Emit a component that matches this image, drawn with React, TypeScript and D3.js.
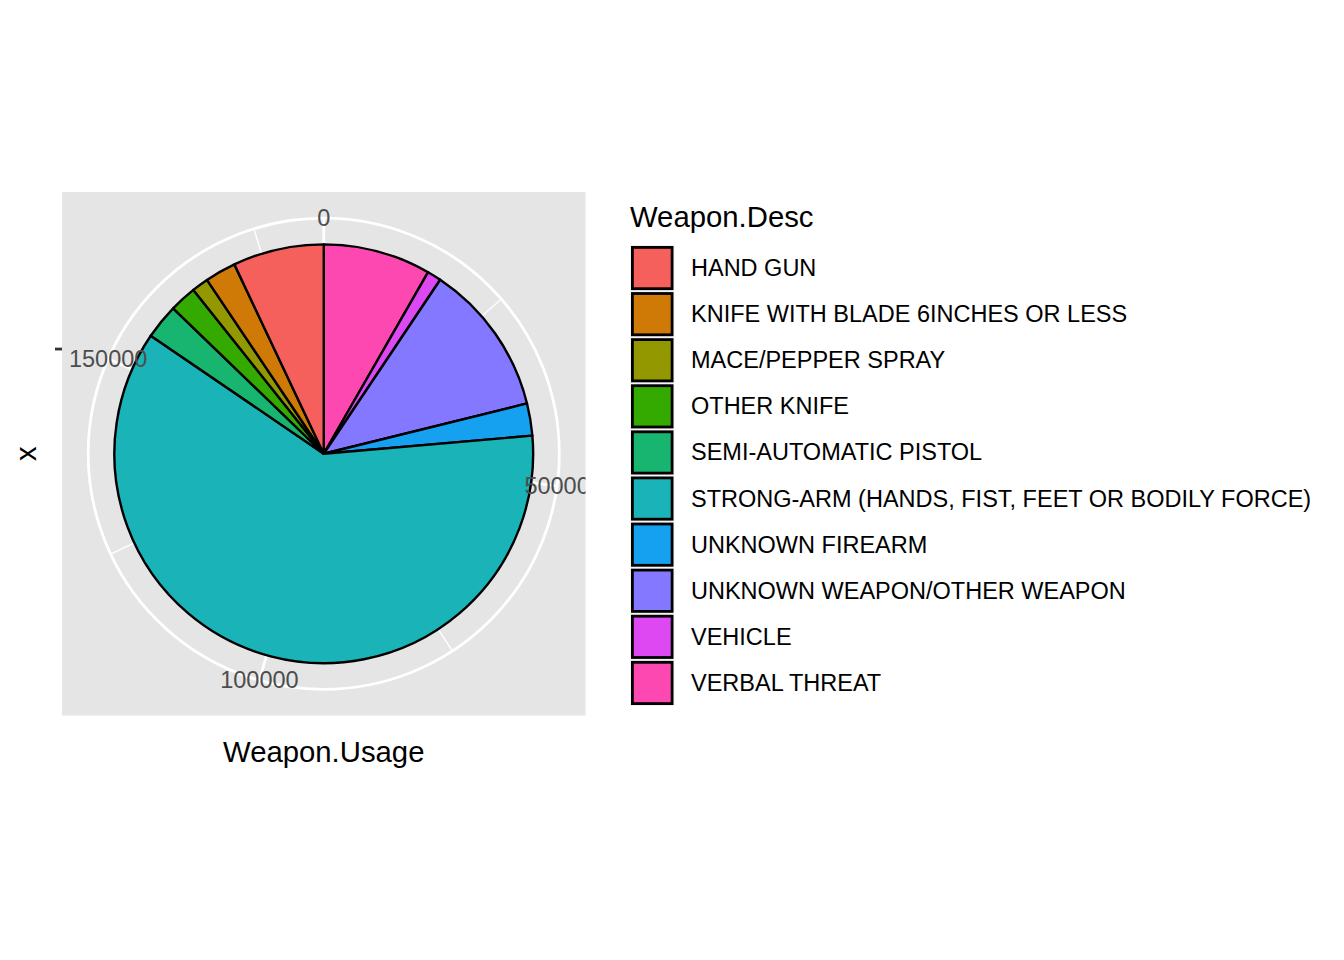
import React, { useRef, useEffect } from "react";
import * as d3 from "d3";

const categories = [
  "HAND GUN",
  "KNIFE WITH BLADE 6INCHES OR LESS",
  "MACE/PEPPER SPRAY",
  "OTHER KNIFE",
  "SEMI-AUTOMATIC PISTOL",
  "STRONG-ARM (HANDS, FIST, FEET OR BODILY FORCE)",
  "UNKNOWN FIREARM",
  "UNKNOWN WEAPON/OTHER WEAPON",
  "VEHICLE",
  "VERBAL THREAT",
];
const usage = [12900, 4410, 2350, 3830, 4950, 111950, 4570, 21600, 1990, 15265];
const colors = [
  "#F5605C", "#CF7A06", "#939800", "#34A900", "#18B570",
  "#19B3B8", "#15A0F0", "#8378FF", "#DE48F2", "#FE48B1",
];
const thetaMajor = [0, 50000, 100000, 150000];
const thetaMinor = [25000, 75000, 125000, 175000];

const FONT = "'Liberation Sans', Arial, Helvetica, sans-serif";

function App() {
  const svgRef = useRef(null);

  useEffect(() => {
    const svg = d3.select(svgRef.current);
    svg.selectAll("*").remove();

    const panel = { x: 62, y: 192, size: 523.5 };
    const cx = panel.x + panel.size / 2;
    const cy = panel.y + panel.size / 2;
    const total = d3.sum(usage);

    const theta = d3.scaleLinear().domain([0, total]).range([0, 2 * Math.PI]);
    const r = d3.scaleLinear().domain([0.5, 1.5]).range([0, 0.4 * panel.size]);
    const outerGrid = 0.45 * panel.size;

    svg.append("defs").append("clipPath").attr("id", "panel-clip")
      .append("rect")
      .attr("x", panel.x).attr("y", panel.y)
      .attr("width", panel.size).attr("height", panel.size);

    // panel background
    svg.append("rect")
      .attr("x", panel.x).attr("y", panel.y)
      .attr("width", panel.size).attr("height", panel.size)
      .attr("fill", "#E5E5E5");

    const g = svg.append("g")
      .attr("clip-path", "url(#panel-clip)")
      .append("g")
      .attr("transform", `translate(${cx},${cy})`);

    // theta grid lines
    const spoke = (v, w) =>
      g.append("line")
        .attr("x1", 0).attr("y1", 0)
        .attr("x2", outerGrid * Math.sin(theta(v)))
        .attr("y2", -outerGrid * Math.cos(theta(v)))
        .attr("stroke", "white").attr("stroke-width", w);
    thetaMajor.forEach(v => spoke(v, 2.8));
    thetaMinor.forEach(v => spoke(v, 1.4));

    // r grid circles
    [r(1), outerGrid].forEach(rad =>
      g.append("circle").attr("r", rad)
        .attr("fill", "none").attr("stroke", "white").attr("stroke-width", 2.8)
    );

    // pie slices (stacked: last level starts at 0)
    const rows = categories.map((c, i) => ({ c, v: usage[i], col: colors[i] })).reverse();
    const pieGen = d3.pie().value(d => d.v).sort(null).startAngle(0).endAngle(2 * Math.PI);
    const arcGen = d3.arc().innerRadius(0).outerRadius(r(1.5));

    g.selectAll(".slice")
      .data(pieGen(rows))
      .join("path")
      .attr("class", "slice")
      .attr("d", arcGen)
      .attr("fill", d => d.data.col)
      .attr("stroke", "black")
      .attr("stroke-width", 2.4)
      .attr("stroke-linejoin", "round");

    // theta labels (clipped to the panel like the original)
    g.selectAll(".tlab")
      .data(thetaMajor)
      .join("text")
      .attr("class", "tlab")
      .attr("x", v => outerGrid * Math.sin(theta(v)))
      .attr("y", v => -outerGrid * Math.cos(theta(v)))
      .attr("text-anchor", "middle")
      .attr("dominant-baseline", "central")
      .attr("font-family", FONT)
      .attr("font-size", 23.5)
      .attr("fill", "#4D4D4D")
      .text(d => d);

    // r axis tick (left)
    svg.append("line")
      .attr("x1", panel.x - 7).attr("x2", panel.x)
      .attr("y1", cy - r(1)).attr("y2", cy - r(1))
      .attr("stroke", "#333333").attr("stroke-width", 2.8);

    // axis titles
    svg.append("text")
      .attr("x", cx).attr("y", 762)
      .attr("text-anchor", "middle")
      .attr("font-family", FONT).attr("font-size", 29.3)
      .attr("fill", "black")
      .text("Weapon.Usage");
    svg.append("text")
      .attr("transform", `translate(36,${cy}) rotate(-90)`)
      .attr("text-anchor", "middle")
      .attr("font-family", FONT).attr("font-size", 29.3)
      .attr("fill", "black")
      .text("x");

    // legend
    const lg = svg.append("g");
    lg.append("text")
      .attr("x", 630).attr("y", 227)
      .attr("font-family", FONT).attr("font-size", 29.3)
      .attr("fill", "black")
      .text("Weapon.Desc");

    const keyY = d3.scaleBand().domain(categories).range([245, 245 + 46.1 * categories.length]);
    categories.forEach((c, i) => {
      const y = keyY(c);
      lg.append("rect")
        .attr("x", 630).attr("y", y)
        .attr("width", 44.5).attr("height", 46.1)
        .attr("fill", "#F2F2F2");
      lg.append("rect")
        .attr("x", 632.4).attr("y", y + 2.4)
        .attr("width", 39.7).attr("height", 41.3)
        .attr("fill", colors[i])
        .attr("stroke", "black").attr("stroke-width", 2.8);
      lg.append("text")
        .attr("x", 691).attr("y", y + keyY.bandwidth() / 2)
        .attr("dominant-baseline", "central")
        .attr("font-family", FONT).attr("font-size", 23.5)
        .attr("fill", "black")
        .text(c);
    });
  }, []);

  return (
    <div>
      <svg ref={svgRef} width={1344} height={960} style={{ position: "absolute", left: 0, top: 0 }} />
    </div>
  );
}

export default App;
